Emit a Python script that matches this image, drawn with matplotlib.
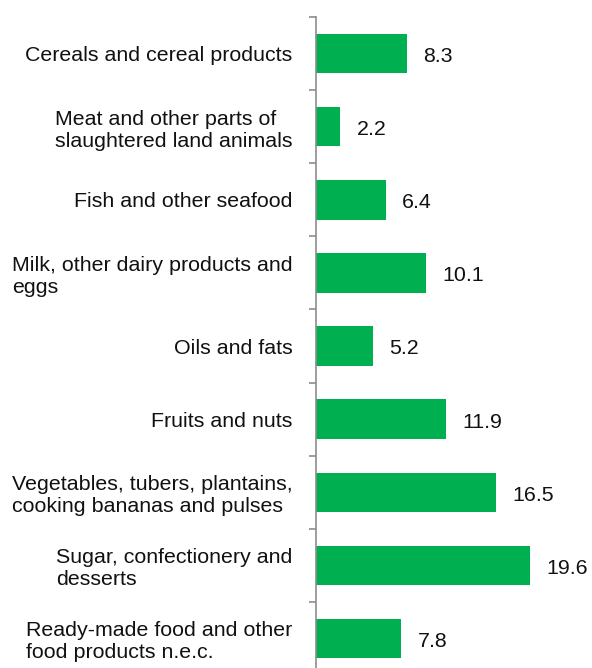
import numpy as np
import matplotlib.pyplot as plt

categories = [
    "Cereals and cereal products",
    "Meat and other parts of\nslaughtered land animals",
    "Fish and other seafood",
    "Milk, other dairy products and\neggs",
    "Oils and fats",
    "Fruits and nuts",
    "Vegetables, tubers, plantains,\ncooking bananas and pulses",
    "Sugar, confectionery and\ndesserts",
    "Ready-made food and other\nfood products n.e.c.",
]
values = [8.3, 2.2, 6.4, 10.1, 5.2, 11.9, 16.5, 19.6, 7.8]

plt.rcParams['font.family'] = ['Liberation Sans', 'DejaVu Sans']

fig = plt.figure(figsize=(5.92, 6.68), dpi=100)
ax = fig.add_axes([0.534, -0.0105, 0.46, 0.985])

y = np.arange(len(categories))
ax.barh(y, values, height=0.54, color='#00B050')

for yi, v in zip(y, values):
    ax.text(v + 1.5, yi + 0.04, f"{v:.1f}", va='center', ha='left', fontsize=15.4, color='#111111')

ax.set_xlim(0, 25)
ax.set_ylim(len(categories) - 0.5, -0.5)

ax.set_yticks(y)
ax.set_yticklabels(categories, fontsize=15.4, color='#111111', linespacing=1.2)
ax.set_yticks(np.arange(len(categories) + 1) - 0.5, minor=True)
ax.tick_params(axis='y', which='major', length=0, pad=17)
ax.tick_params(axis='y', which='minor', length=5, width=1.2, color='#8c8c8c')
for lbl in ax.get_yticklabels():
    lbl.set_horizontalalignment('right')
    lbl.set_multialignment('left')

ax.set_xticks([])
for side in ['top', 'right', 'bottom']:
    ax.spines[side].set_visible(False)
ax.spines['left'].set_color('#8c8c8c')
ax.spines['left'].set_linewidth(1.2)

fig.savefig('out.png', dpi=100)
